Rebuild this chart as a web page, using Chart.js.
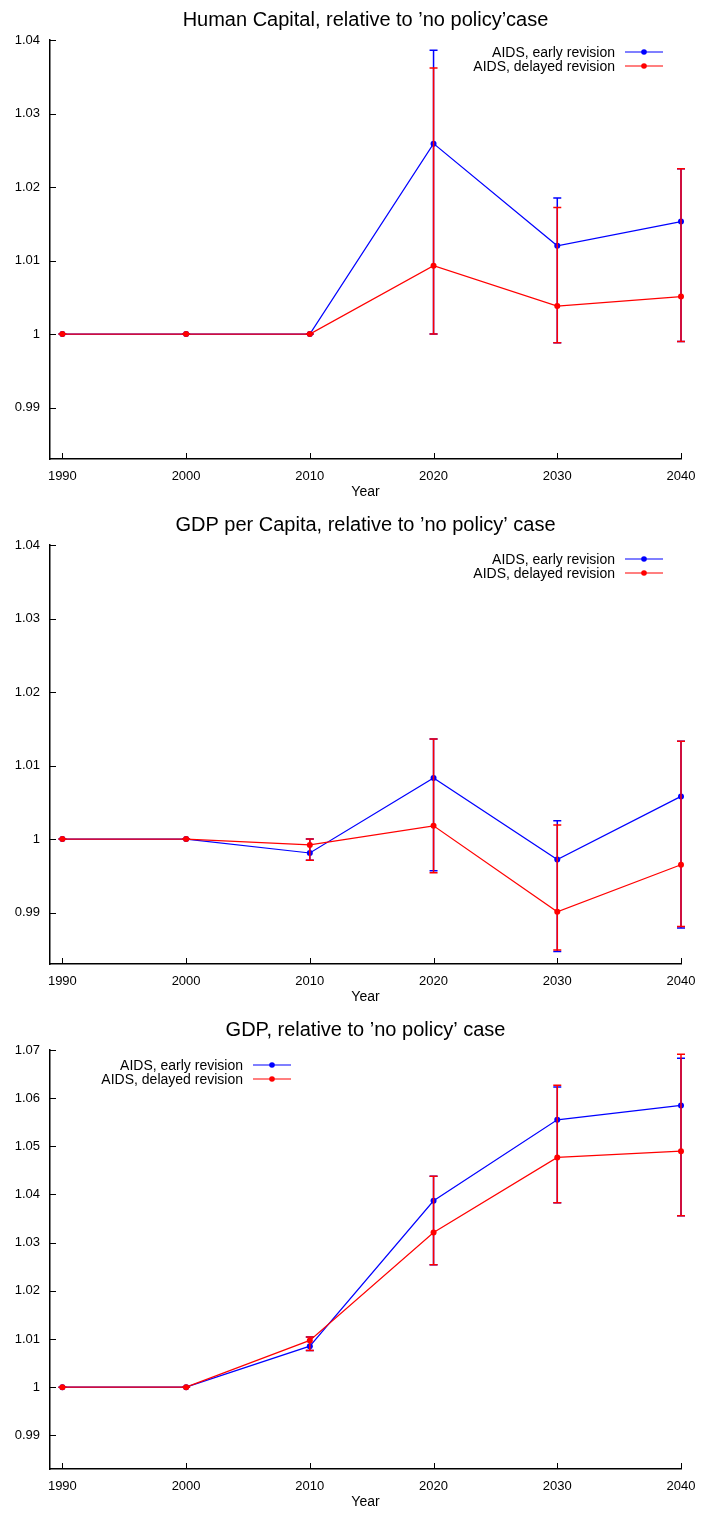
<!DOCTYPE html>
<html>
<head>
<meta charset="utf-8">
<script src="https://cdn.jsdelivr.net/npm/chart.js@4.4.0/dist/chart.umd.min.js"></script>
<style>
  body { margin: 0; background: #fff; }
  canvas { display: block; }
</style>
</head>
<body>
<canvas id="grafico1" width="701" height="505"></canvas>
<canvas id="grafico2" width="701" height="505"></canvas>
<canvas id="grafico3" width="701" height="505"></canvas>
<script>
var years = [1990, 2000, 2010, 2020, 2030, 2040];
var xTicks = [1990, 2000, 2010, 2020, 2030, 2040];
var yTicksSmall = [0.99, 1, 1.01, 1.02, 1.03, 1.04];
var yTicksBig = [0.99, 1, 1.01, 1.02, 1.03, 1.04, 1.05, 1.06, 1.07];
var seriesLabels = ['AIDS, early revision', 'AIDS, delayed revision'];
var titles = [
    'Human Capital, relative to \u2019no policy\u2019case',
    'GDP per Capita, relative to \u2019no policy\u2019 case',
    'GDP, relative to \u2019no policy\u2019 case'
];

// human capital
var hcEarly = [1, 1, 1, 1.0259, 1.0120, 1.0153];
var hcEarlyLow = [1, 1, 1, 1.0000, 0.9988, 0.9990];
var hcEarlyHigh = [1, 1, 1, 1.0386, 1.0185, 1.0225];
var hcDelayed = [1, 1, 1, 1.0093, 1.0038, 1.0051];
var hcDelayedLow = [1, 1, 1, 1.0000, 0.9988, 0.9990];
var hcDelayedHigh = [1, 1, 1, 1.0362, 1.0172, 1.0225];

// gdp per capita
var gpcEarly = [1, 1, 0.9981, 1.0083, 0.9972, 1.0058];
var gpcEarlyLow = [1, 1, 0.9971, 0.9957, 0.9847, 0.9879];
var gpcEarlyHigh = [1, 1, 1.0000, 1.0136, 1.0025, 1.0133];
var gpcDelayed = [1, 1, 0.9992, 1.0018, 0.9901, 0.9965];
var gpcDelayedLow = [1, 1, 0.9971, 0.9954, 0.9849, 0.9881];
var gpcDelayedHigh = [1, 1, 1.0000, 1.0136, 1.0019, 1.0133];

// gdp
var gdpEarly = [1, 1, 1.0085, 1.0387, 1.0555, 1.0585];
var gdpEarlyLow = [1, 1, 1.0076, 1.0254, 1.0383, 1.0356];
var gdpEarlyHigh = [1, 1, 1.0104, 1.0438, 1.0623, 1.0683];
var gdpDelayed = [1, 1, 1.0097, 1.0321, 1.0477, 1.0490];
var gdpDelayedLow = [1, 1, 1.0076, 1.0254, 1.0383, 1.0356];
var gdpDelayedHigh = [1, 1, 1.0104, 1.0438, 1.0627, 1.0691];

var FONT = '"Liberation Sans", Arial, Helvetica, sans-serif';
var BLUE = '#0000ff';
var RED = '#ff0000';

// error bars, drawn just before each dataset's line
var errorBars = {
    id: 'errorBars',
    beforeDatasetDraw: function(chart, args) {
        var ds = chart.data.datasets[args.index];
        if (!ds.errLow) return;
        var ctx = chart.ctx, xs = chart.scales.x, ys = chart.scales.y;
        ctx.save();
        ctx.strokeStyle = ds.borderColor;
        ctx.lineWidth = 1.5;
        ds.data.forEach(function(p, i) {
            var px = xs.getPixelForValue(p.x);
            var top = ys.getPixelForValue(ds.errHigh[i]);
            var bot = ys.getPixelForValue(ds.errLow[i]);
            ctx.beginPath();
            ctx.moveTo(px, top); ctx.lineTo(px, bot);
            ctx.moveTo(px - 4, top); ctx.lineTo(px + 4, top);
            ctx.moveTo(px - 4, bot); ctx.lineTo(px + 4, bot);
            ctx.stroke();
        });
        ctx.restore();
    }
};

// inward tick marks like gnuplot
var innerTicks = {
    id: 'innerTicks',
    afterDraw: function(chart) {
        var ctx = chart.ctx, xs = chart.scales.x, ys = chart.scales.y;
        var area = chart.chartArea;
        ctx.save();
        ctx.strokeStyle = '#000';
        ctx.lineWidth = 1;
        ctx.beginPath();
        xs.ticks.forEach(function(t) {
            var px = Math.round(xs.getPixelForValue(t.value)) + 0.5;
            ctx.moveTo(px, area.bottom);
            ctx.lineTo(px, area.bottom - 6);
        });
        ys.ticks.forEach(function(t) {
            var py = Math.round(ys.getPixelForValue(t.value)) + 0.5;
            ctx.moveTo(area.left, py);
            ctx.lineTo(area.left + 6, py);
        });
        ctx.stroke();
        ctx.restore();
    }
};

// gnuplot style key: text, then line sample with a point
var gnuLegend = {
    id: 'gnuLegend',
    afterDraw: function(chart, args, opts) {
        var ctx = chart.ctx;
        ctx.save();
        ctx.font = '14px ' + FONT;
        ctx.textAlign = 'right';
        ctx.textBaseline = 'middle';
        chart.data.datasets.forEach(function(ds, i) {
            var y = opts.y + i * 14;
            ctx.fillStyle = '#000';
            ctx.fillText(ds.label, opts.x, y + 1);
            ctx.strokeStyle = ds.borderColor;
            ctx.lineWidth = 1.2;
            ctx.beginPath();
            ctx.moveTo(opts.x + 10, y);
            ctx.lineTo(opts.x + 48, y);
            ctx.stroke();
            ctx.fillStyle = ds.borderColor;
            ctx.beginPath();
            ctx.arc(opts.x + 29, y, 2.8, 0, Math.PI * 2);
            ctx.fill();
        });
        ctx.restore();
    }
};

function serie(label, values, low, high, colore, ordine) {
    return {
        label: label,
        data: years.map(function(x, i) { return {x: x, y: values[i]}; }),
        errLow: low,
        errHigh: high,
        borderColor: colore,
        backgroundColor: colore,
        borderWidth: 1.2,
        pointRadius: 3,
        pointBorderWidth: 0,
        pointStyle: 'circle',
        tension: 0,
        clip: false,
        order: ordine
    };
}

function creaGrafico(id, titolo, early, delayed, yMax, yTicks, legendX, legendY) {
    return new Chart(document.getElementById(id), {
        type: 'line',
        data: {
            datasets: [
                serie(seriesLabels[0], early[0], early[1], early[2], BLUE, 2),
                serie(seriesLabels[1], delayed[0], delayed[1], delayed[2], RED, 1)
            ]
        },
        options: {
            responsive: false,
            animation: false,
            events: [],
            layout: { padding: { left: 0, right: 20, top: 0, bottom: 4 } },
            plugins: {
                legend: { display: false },
                tooltip: { enabled: false },
                title: {
                    display: true,
                    text: titolo,
                    fullSize: false,
                    color: '#000',
                    font: { family: FONT, size: 20, weight: 'normal' },
                    padding: { top: 8, bottom: 8 }
                },
                gnuLegend: { x: legendX, y: legendY }
            },
            scales: {
                x: {
                    type: 'linear',
                    min: 1989,
                    max: 2040,
                    afterBuildTicks: function(s) { s.ticks = xTicks.map(function(v) { return {value: v}; }); },
                    afterFit: function(s) { s.height = 42; s.paddingLeft = 0; s.paddingRight = 0; },
                    grid: { display: false, drawTicks: false },
                    border: { color: '#000', width: 1.5 },
                    ticks: {
                        color: '#000',
                        font: { family: FONT, size: 13 },
                        padding: 10,
                        maxRotation: 0,
                        autoSkip: false,
                        callback: function(v) { return String(v); }
                    },
                    title: {
                        display: true,
                        text: 'Year',
                        color: '#000',
                        font: { family: FONT, size: 14 },
                        padding: { top: 2, bottom: 0 }
                    }
                },
                y: {
                    min: 0.983,
                    max: yMax,
                    afterBuildTicks: function(s) { s.ticks = yTicks.map(function(v) { return {value: v}; }); },
                    afterFit: function(s) { s.width = 50; s.paddingTop = 0; s.paddingBottom = 0; },
                    grid: { display: false, drawTicks: false },
                    border: { color: '#000', width: 1.5 },
                    ticks: {
                        color: '#000',
                        font: { family: FONT, size: 13 },
                        padding: 10,
                        autoSkip: false,
                        callback: function(v) { return String(+Number(v).toFixed(2)); }
                    }
                }
            }
        },
        plugins: [errorBars, innerTicks, gnuLegend]
    });
}

creaGrafico('grafico1', titles[0],
    [hcEarly, hcEarlyLow, hcEarlyHigh], [hcDelayed, hcDelayedLow, hcDelayedHigh],
    1.04, yTicksSmall, 615, 52);
creaGrafico('grafico2', titles[1],
    [gpcEarly, gpcEarlyLow, gpcEarlyHigh], [gpcDelayed, gpcDelayedLow, gpcDelayedHigh],
    1.04, yTicksSmall, 615, 54);
creaGrafico('grafico3', titles[2],
    [gdpEarly, gdpEarlyLow, gdpEarlyHigh], [gdpDelayed, gdpDelayedLow, gdpDelayedHigh],
    1.07, yTicksBig, 243, 55);
</script>
</body>
</html>
